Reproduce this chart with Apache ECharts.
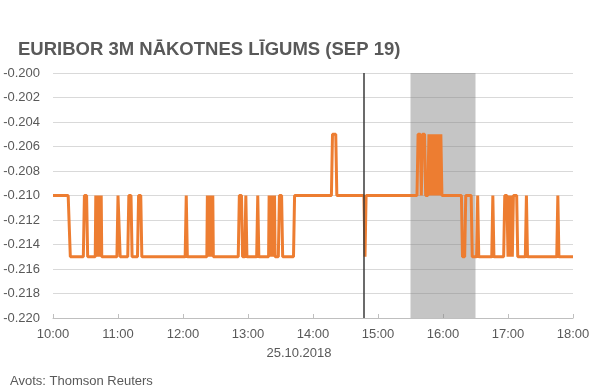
<!DOCTYPE html>
<html>
<head>
<meta charset="utf-8">
<script src="https://cdn.jsdelivr.net/npm/echarts@6/dist/echarts.min.js"></script>
<style>
html,body{margin:0;padding:0;background:#fff;}
#chart{width:600px;height:391px;}
</style>
</head>
<body>
<div id="chart"></div>
<script>
const titleText = "EURIBOR 3M NĀKOTNES LĪGUMS (SEP 19)";
const dateLabel = "25.10.2018";
const sourceText = "Avots: Thomson Reuters";

const yTicks = [-0.220, -0.218, -0.216, -0.214, -0.212, -0.210, -0.208, -0.206, -0.204, -0.202, -0.200];
const xTickLabels = ["10:00","11:00","12:00","13:00","14:00","15:00","16:00","17:00","18:00"];

const times = [
"10:00","10:14","10:16","10:28","10:29","10:31","10:32",
"10:39","10:39:30","10:40","10:40:30","10:41","10:41:30","10:42","10:42:30","10:43","10:43:30","10:44","10:44:30","10:45",
"10:59","11:00","11:01","11:02","11:09","11:10","11:12","11:13","11:18","11:19","11:21","11:22",
"12:02","12:03","12:04",
"12:22","12:22:30","12:23","12:23:30","12:24","12:24:30","12:25","12:25:30","12:26","12:26:30","12:27","12:27:30","12:28",
"12:51","12:52","12:54","12:55","12:57","12:58","12:59","13:08","13:09","13:10",
"13:19","13:19:30","13:20","13:20:30","13:21","13:21:30","13:22","13:22:30","13:23","13:23:30","13:24","13:24:30","13:25",
"13:28","13:29","13:31","13:32","13:42","13:43","14:17","14:18","14:21","14:22","14:47","14:48","14:49",
"15:36","15:37","15:39","15:40","15:41","15:43","15:44","15:46",
"15:47","15:47:30","15:48","15:48:30","15:49","15:49:30","15:50","15:50:30","15:51","15:51:30","15:52","15:52:30",
"15:53","15:53:30","15:54","15:54:30","15:55","15:55:30","15:56","15:56:30","15:57","15:57:30","15:58","15:59",
"16:17","16:18","16:20","16:21","16:26","16:27","16:31","16:32","16:33","16:45","16:46","16:47",
"16:56","16:57","16:59","17:00","17:01","17:02","17:03","17:04","17:05","17:08","17:09",
"17:16","17:17","17:18","17:45","17:46","17:47","18:00"
];
const values = [
-0.210,-0.210,-0.215,-0.215,-0.210,-0.210,-0.215,
-0.215,-0.210,-0.215,-0.210,-0.215,-0.210,-0.215,-0.210,-0.215,-0.210,-0.215,-0.210,-0.215,
-0.215,-0.210,-0.210,-0.215,-0.215,-0.210,-0.210,-0.215,-0.215,-0.210,-0.210,-0.215,
-0.215,-0.210,-0.215,
-0.215,-0.210,-0.215,-0.210,-0.215,-0.210,-0.215,-0.210,-0.215,-0.210,-0.215,-0.210,-0.215,
-0.215,-0.210,-0.210,-0.215,-0.215,-0.210,-0.215,-0.215,-0.210,-0.215,
-0.215,-0.210,-0.215,-0.210,-0.215,-0.210,-0.215,-0.210,-0.215,-0.210,-0.215,-0.210,-0.215,
-0.215,-0.210,-0.210,-0.215,-0.215,-0.210,-0.210,-0.205,-0.205,-0.210,-0.210,-0.215,-0.210,
-0.210,-0.205,-0.205,-0.210,-0.205,-0.205,-0.210,-0.210,
-0.205,-0.210,-0.205,-0.210,-0.205,-0.210,-0.205,-0.210,-0.205,-0.210,-0.205,-0.210,
-0.205,-0.210,-0.205,-0.210,-0.205,-0.210,-0.205,-0.210,-0.205,-0.210,-0.205,-0.210,
-0.210,-0.215,-0.215,-0.210,-0.210,-0.215,-0.215,-0.210,-0.215,-0.215,-0.210,-0.215,
-0.215,-0.210,-0.210,-0.215,-0.210,-0.215,-0.210,-0.215,-0.210,-0.210,-0.215,
-0.215,-0.210,-0.215,-0.215,-0.210,-0.215,-0.215
];

const eventTime = "14:47";
const bandStart = "15:30";
const bandEnd = "16:30";

function toMin(s){ const p = s.split(":"); return (+p[0])*60 + (+p[1]) + (p[2] ? (+p[2])/60 : 0); }
function fmtMin(v){ const h = Math.floor(v/60), m = Math.round(v%60); return h + ":" + (m<10?"0":"") + m; }

const seriesData = times.map((t,i)=>[toMin(t), values[i]]);
const xMin = toMin(xTickLabels[0]);
const xMax = toMin(xTickLabels[xTickLabels.length-1]);

const font = "Liberation Sans";
const grey = "#595959";

const chart = echarts.init(document.getElementById('chart'), null, {renderer:'canvas'});
chart.setOption({
  animation:false,
  backgroundColor:'#fff',
  textStyle:{fontFamily:font},
  grid:{left:53, right:27, top:73, bottom:73},
  xAxis:{
    type:'value', min:xMin, max:xMax, interval:60,
    axisLine:{show:true, lineStyle:{color:'#bfbfbf', width:1}},
    axisTick:{show:true, inside:true, length:4, lineStyle:{color:'#bfbfbf'}},
    splitLine:{show:false},
    axisLabel:{color:grey, fontSize:13, fontFamily:font, margin:10, formatter:v=>fmtMin(v)}
  },
  yAxis:{
    type:'value', min:yTicks[0], max:yTicks[yTicks.length-1], interval:0.002,
    axisLine:{show:false}, axisTick:{show:false},
    splitLine:{show:true, lineStyle:{color:'#d9d9d9', width:1}},
    axisLabel:{color:grey, fontSize:13, fontFamily:font, margin:13, formatter:v=>v.toFixed(3)}
  },
  series:[
    {
      type:'line', data:seriesData, showSymbol:false, z:2,
      lineStyle:{color:'#ED7D31', width:3},
      itemStyle:{color:'#ED7D31'}
    },
    {
      type:'line', data:[], z:5, silent:true,
      markArea:{silent:true, itemStyle:{color:'rgba(127,127,127,0.45)'},
        data:[[{xAxis:toMin(bandStart)},{xAxis:toMin(bandEnd)}]]}
    },
    {
      type:'line', data:[], z:6, silent:true,
      markLine:{silent:true, symbol:['none','none'], label:{show:false},
        lineStyle:{color:'#3a3a3a', width:1.5, type:'solid'},
        data:[{xAxis:toMin(eventTime)}]}
    }
  ],
  graphic:[
    {type:'text', left:18, top:40, style:{text:titleText, fill:grey, font:'bold 18.5px "Liberation Sans"'}},
    {type:'text', x:299, y:353, style:{text:dateLabel, fill:grey, font:'13px "Liberation Sans"', textAlign:'center', textVerticalAlign:'middle'}},
    {type:'text', x:10, y:381, style:{text:sourceText, fill:grey, font:'13px "Liberation Sans"', textAlign:'left', textVerticalAlign:'middle'}}
  ]
});
</script>
</body>
</html>
